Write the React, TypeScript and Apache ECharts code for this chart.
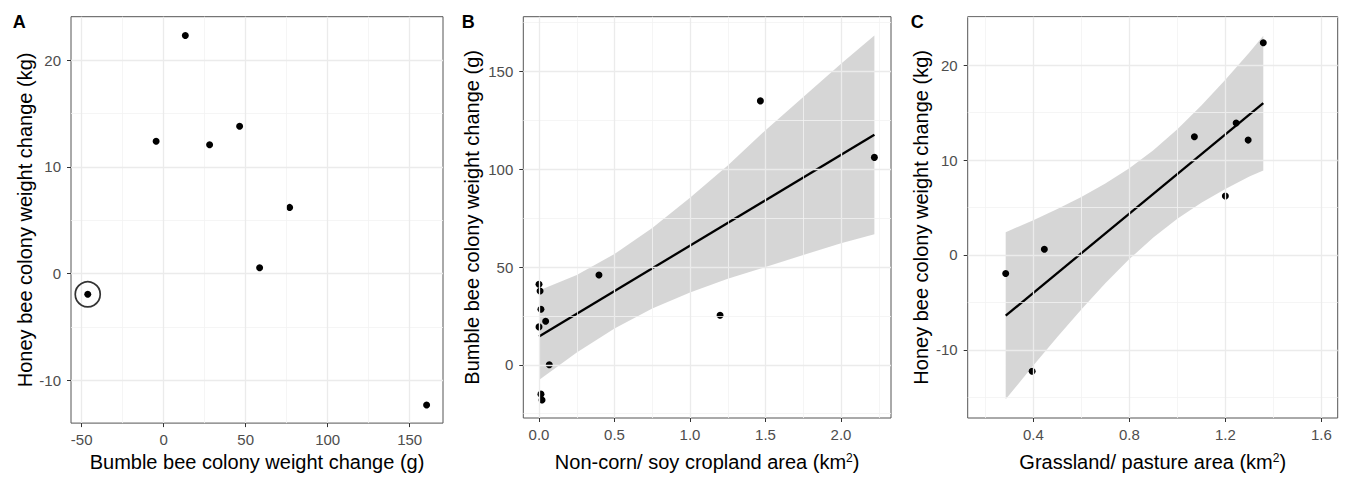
import React, { useEffect, useRef } from 'react';
import * as echarts from 'echarts';

const FONT = '"Liberation Sans", Arial, Helvetica, sans-serif';

// ---------- Panel A: bumble bee vs honey bee weight change ----------
const bumbleA = [-46.3, 13.2, -4.6, 28.0, 46.3, 76.8, 58.5, 160.3];
const honeyA = [-1.94, 22.3, 12.4, 12.06, 13.8, 6.2, 0.55, -12.3];
const circledIndexA = 0;
const xTicksA = [-50, 0, 50, 100, 150];
const xMinorA = [-25, 25, 75, 125];
const yTicksA = [-10, 0, 10, 20];
const yMinorA = [-5, 5, 15];

// ---------- Panel B: non-corn/soy cropland vs bumble bee ----------
const cropB = [0.0, 0.007, 0.013, 0.044, 0.0, 0.068, 0.013, 0.02, 0.397, 1.199, 1.466, 2.221];
const bumbleB = [41.2, 37.8, 28.4, 22.3, 19.4, 0.0, -15.0, -18.0, 45.9, 25.4, 135.0, 106.1];
const fitXB = [0, 2.221];
const fitYB = [14.5, 117.7];
const bandXB = [0, 0.25, 0.5, 0.75, 1.0, 1.25, 1.5, 1.75, 2.0, 2.221];
const bandUpperB = [38.0, 45.9, 56.7, 70.0, 85.5, 102.0, 120.0, 137.0, 154.0, 168.5];
const bandLowerB = [-7.8, 6.3, 18.6, 28.8, 37.0, 44.0, 50.0, 56.2, 62.2, 66.8];
const xTicksB = [0, 0.5, 1.0, 1.5, 2.0];
const xMinorB = [0.25, 0.75, 1.25, 1.75, 2.25];
const yTicksB = [0, 50, 100, 150];
const yMinorB = [-25, 25, 75, 125, 175];

// ---------- Panel C: grassland/pasture vs honey bee ----------
const grassC = [0.285, 0.446, 0.395, 1.071, 1.245, 1.295, 1.2, 1.358];
const honeyC = [-1.96, 0.6, -12.26, 12.45, 13.9, 12.1, 6.2, 22.36];
const fitXC = [0.285, 1.358];
const fitYC = [-6.4, 16.0];
const bandXC = [0.285, 0.4, 0.5, 0.6, 0.7, 0.8, 0.9, 1.0, 1.1, 1.2, 1.3, 1.358];
const bandUpperC = [2.4, 3.66, 4.83, 6.1, 7.52, 9.14, 11.04, 13.25, 15.74, 18.45, 21.32, 23.1];
const bandLowerC = [-15.2, -11.66, -8.65, -5.74, -2.98, -0.44, 1.84, 3.81, 5.5, 6.95, 8.26, 8.9];
const xTicksC = [0.4, 0.8, 1.2, 1.6];
const xMinorC = [0.2, 0.6, 1.0, 1.4];
const yTicksC = [-10, 0, 10, 20];
const yMinorC = [-15, -5, 5, 15, 25];

const MAJOR = { color: '#EBEBEB', width: 1.3, type: 'solid' as const };
const MINOR = { color: '#F2F2F2', width: 0.8, type: 'solid' as const };

function zip(xs: number[], ys: number[]) {
  return xs.map((x, i) => [x, ys[i]]);
}

function gridLineSeries(idx: number, xMaj: number[], xMin: number[], yMaj: number[], yMin: number[]) {
  const data: any[] = [];
  xMin.forEach((v) => data.push({ xAxis: v, lineStyle: MINOR }));
  yMin.forEach((v) => data.push({ yAxis: v, lineStyle: MINOR }));
  xMaj.forEach((v) => data.push({ xAxis: v, lineStyle: MAJOR }));
  yMaj.forEach((v) => data.push({ yAxis: v, lineStyle: MAJOR }));
  return {
    type: 'line',
    xAxisIndex: idx,
    yAxisIndex: idx,
    data: [],
    z: 1,
    silent: true,
    markLine: {
      silent: true,
      symbol: ['none', 'none'],
      label: { show: false },
      emphasis: { disabled: true },
      animation: false,
      data,
    },
  };
}

function bandSeries(idx: number, xs: number[], up: number[], lo: number[]) {
  return {
    type: 'custom',
    xAxisIndex: idx,
    yAxisIndex: idx,
    z: 2,
    silent: true,
    data: [[xs[0], up[0]]],
    renderItem: (_p: any, api: any) => {
      const pts: number[][] = [];
      xs.forEach((x, i) => pts.push(api.coord([x, up[i]])));
      for (let i = xs.length - 1; i >= 0; i--) pts.push(api.coord([xs[i], lo[i]]));
      return {
        type: 'polygon',
        shape: { points: pts },
        style: { fill: 'rgba(153,153,153,0.4)' },
      };
    },
  };
}

function fitSeries(idx: number, xs: number[], ys: number[]) {
  return {
    type: 'line',
    xAxisIndex: idx,
    yAxisIndex: idx,
    z: 3,
    silent: true,
    symbol: 'none',
    data: zip(xs, ys),
    lineStyle: { color: '#000', width: 2.3 },
  };
}

function pointSeries(idx: number, xs: number[], ys: number[]) {
  return {
    type: 'scatter',
    xAxisIndex: idx,
    yAxisIndex: idx,
    z: 4,
    silent: true,
    symbolSize: 7,
    itemStyle: { color: '#000', opacity: 1 },
    data: zip(xs, ys),
  };
}

function xAxis(idx: number, min: number, max: number, ticks: number[], digits: number, name: string, gap: number, margin: number, rich: boolean) {
  return {
    type: 'value',
    gridIndex: idx,
    min,
    max,
    position: 'bottom',
    axisLine: { show: false, onZero: false },
    splitLine: { show: false },
    axisTick: { show: true, length: 4, lineStyle: { color: '#333', width: 1 }, customValues: ticks },
    axisLabel: {
      customValues: ticks,
      margin,
      color: '#4D4D4D',
      fontSize: 15,
      fontFamily: FONT,
      formatter: (v: number) => v.toFixed(digits),
    },
    name,
    nameLocation: 'middle',
    nameGap: gap,
    nameTextStyle: rich
      ? {
          rich: {
            t: { fontSize: 20, lineHeight: 20, color: '#000', fontFamily: FONT },
            s: { fontSize: 12, lineHeight: 12, verticalAlign: 'top', color: '#000', fontFamily: FONT },
          },
        }
      : { fontSize: 20, lineHeight: 20, color: '#000', fontFamily: FONT },
  };
}

function yAxis(idx: number, min: number, max: number, ticks: number[], name: string, gap: number) {
  return {
    type: 'value',
    gridIndex: idx,
    min,
    max,
    position: 'left',
    axisLine: { show: false, onZero: false },
    splitLine: { show: false },
    axisTick: { show: true, length: 4, lineStyle: { color: '#333', width: 1 }, customValues: ticks },
    axisLabel: {
      customValues: ticks,
      margin: 10,
      color: '#4D4D4D',
      fontSize: 15,
      fontFamily: FONT,
      formatter: (v: number) => String(v),
    },
    name,
    nameLocation: 'middle',
    nameGap: gap,
    nameTextStyle: { fontSize: 20, lineHeight: 20, color: '#000', fontFamily: FONT },
  };
}

function panelLabel(text: string, x: number) {
  return {
    type: 'text',
    x,
    y: 21.8,
    silent: true,
    style: {
      text,
      fill: '#000',
      font: `bold 18px ${FONT}`,
      align: 'left',
      verticalAlign: 'middle',
    },
  };
}

export default function App() {
  const ref = useRef<HTMLDivElement>(null);
  useEffect(() => {
    if (!ref.current) return;
    const chart = echarts.init(ref.current, undefined, { renderer: 'svg' });
    const gridBase = { show: true, borderColor: '#555', borderWidth: 1, backgroundColor: '#fff', containLabel: false };
    const option: any = {
      animation: false,
      backgroundColor: '#fff',
      grid: [
        { ...gridBase, left: 71, top: 16.7, width: 372, height: 412.3 },
        { ...gridBase, left: 523.3, top: 16.7, width: 367.7, height: 402.3 },
        { ...gridBase, left: 967.7, top: 16.7, width: 370, height: 402.3 },
      ],
      xAxis: [
        xAxis(0, -56.5, 170.3, xTicksA, 0, 'Bumble bee colony weight change (g)', 26.5, 9, false),
        xAxis(1, -0.104, 2.331, xTicksB, 1, '{t|Non-corn/ soy cropland area (km}{s|2}{t|)}', 34, 8.5, true),
        xAxis(2, 0.1267, 1.668, xTicksC, 1, '{t|Grassland/ pasture area (km}{s|2}{t|)}', 34, 8.5, true),
      ],
      yAxis: [
        yAxis(0, -14.0, 24.06, yTicksA, 'Honey bee colony weight change (kg)', 36.3),
        yAxis(1, -27.2, 178.06, yTicksB, 'Bumble bee colony weight change (g)', 41.5),
        yAxis(2, -17.18, 25.1, yTicksC, 'Honey bee colony weight change (kg)', 36.3),
      ],
      series: [
        gridLineSeries(0, xTicksA, xMinorA, yTicksA, yMinorA),
        pointSeries(0, bumbleA, honeyA),
        {
          type: 'scatter',
          xAxisIndex: 0,
          yAxisIndex: 0,
          z: 5,
          silent: true,
          symbol: 'circle',
          symbolSize: 25,
          itemStyle: { color: 'rgba(0,0,0,0)', borderColor: '#000', borderWidth: 1.7 },
          data: [[bumbleA[circledIndexA], honeyA[circledIndexA]]],
        },
        gridLineSeries(1, xTicksB, xMinorB, yTicksB, yMinorB),
        bandSeries(1, bandXB, bandUpperB, bandLowerB),
        fitSeries(1, fitXB, fitYB),
        pointSeries(1, cropB, bumbleB),
        gridLineSeries(2, xTicksC, xMinorC, yTicksC, yMinorC),
        bandSeries(2, bandXC, bandUpperC, bandLowerC),
        fitSeries(2, fitXC, fitYC),
        pointSeries(2, grassC, honeyC),
      ],
      graphic: [panelLabel('A', 12.7), panelLabel('B', 461.7), panelLabel('C', 910.7)],
    };
    chart.setOption(option);
    return () => chart.dispose();
  }, []);
  return (
    <div
      ref={ref}
      style={{ position: 'absolute', left: 0, top: 0, width: 1345, height: 477, background: '#fff' }}
    />
  );
}
